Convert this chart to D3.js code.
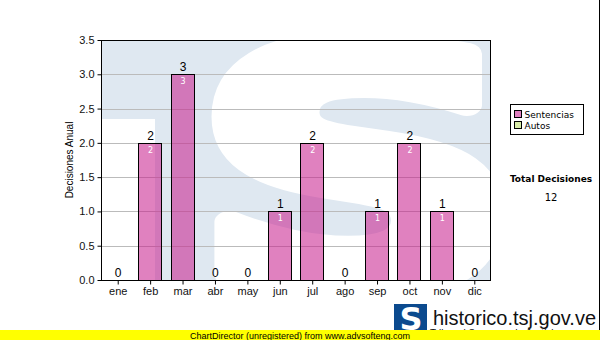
<!DOCTYPE html>
<html>
<head>
<meta charset="utf-8">
<script src="https://cdn.jsdelivr.net/npm/d3@7"></script>
<style>
  body { margin: 0; background: #fff; }
  svg { display: block; }
</style>
</head>
<body>
<svg id="chart" width="600" height="340"></svg>
<script>
// Data
const months = ["ene", "feb", "mar", "abr", "may", "jun", "jul", "ago", "sep", "oct", "nov", "dic"];
const sentencias = [0, 2, 3, 0, 0, 1, 2, 0, 1, 2, 1, 0];
const autos = [0, 0, 0, 0, 0, 0, 0, 0, 0, 0, 0, 0];
const yTicks = [0, 0.5, 1, 1.5, 2, 2.5, 3, 3.5];
const seriesNames = ["Sentencias", "Autos"];

const width = 600, height = 340;
const plot = { left: 101, right: 490, top: 40, bottom: 280 };
const svg = d3.select("#chart");

const x = d3.scaleBand().domain(months).range([plot.left, plot.right]).paddingInner(0.29).paddingOuter(0.145);
const y = d3.scaleLinear().domain([0, 3.5]).range([plot.bottom, plot.top]);

// plot background with watermark
const defs = svg.append("defs");
defs.append("clipPath").attr("id", "plotClip")
  .append("rect")
  .attr("x", plot.left).attr("y", plot.top)
  .attr("width", plot.right - plot.left).attr("height", plot.bottom - plot.top);

const bg = svg.append("g").attr("clip-path", "url(#plotClip)");
bg.append("rect")
  .attr("x", plot.left).attr("y", plot.top)
  .attr("width", plot.right - plot.left).attr("height", plot.bottom - plot.top)
  .attr("fill", "#dfe8f1");
bg.append("rect")
  .attr("x", plot.left).attr("y", 119)
  .attr("width", 54).attr("height", plot.bottom - 119)
  .attr("fill", "#fff");
bg.append("text")
  .attr("transform", "translate(358,287) scale(1.38,1)")
  .attr("text-anchor", "middle")
  .attr("font-family", "DejaVu Sans")
  .attr("font-weight", "bold")
  .attr("font-size", 330)
  .attr("fill", "#fff")
  .attr("stroke", "#fff")
  .attr("stroke-width", 22)
  .attr("stroke-linejoin", "round")
  .text("S");

// grid lines
svg.append("g").selectAll("line")
  .data(yTicks.filter(d => d > 0 && d < 3.5))
  .enter().append("line")
  .attr("x1", plot.left).attr("x2", plot.right)
  .attr("y1", d => Math.round(y(d)) + 0.5).attr("y2", d => Math.round(y(d)) + 0.5)
  .attr("stroke", "#bbbbbb");

// bars
const barColor = "rgba(200,30,140,0.56)";
const bars = svg.append("g");
bars.selectAll("rect")
  .data(months.filter((m, i) => sentencias[i] > 0))
  .enter().append("rect")
  .attr("x", m => Math.round(x(m)) + 0.5)
  .attr("y", m => Math.round(y(sentencias[months.indexOf(m)])) + 0.5)
  .attr("width", Math.round(x.bandwidth()))
  .attr("height", m => Math.round(y(0)) - Math.round(y(sentencias[months.indexOf(m)])))
  .attr("fill", barColor)
  .attr("stroke", "#000")
  .attr("stroke-width", 1);

// value labels above
svg.append("g").selectAll("text")
  .data(months)
  .enter().append("text")
  .attr("x", m => x(m) + x.bandwidth() / 2 + 1)
  .attr("y", (m, i) => y(sentencias[i] + autos[i]) - 3)
  .attr("text-anchor", "middle")
  .attr("font-family", "Liberation Sans, Arial")
  .attr("font-size", 12)
  .attr("fill", "#000")
  .text((m, i) => sentencias[i] + autos[i]);

// value labels inside
svg.append("g").selectAll("text")
  .data(months.filter((m, i) => sentencias[i] > 0))
  .enter().append("text")
  .attr("x", m => x(m) + x.bandwidth() / 2 + 1)
  .attr("y", m => y(sentencias[months.indexOf(m)]) + 10)
  .attr("text-anchor", "middle")
  .attr("font-family", "DejaVu Sans")
  .attr("font-size", 8)
  .attr("fill", "#fff")
  .text(m => sentencias[months.indexOf(m)]);

// plot frame
svg.append("rect")
  .attr("x", plot.left + 0.5).attr("y", plot.top + 0.5)
  .attr("width", plot.right - plot.left).attr("height", plot.bottom - plot.top)
  .attr("fill", "none").attr("stroke", "#000");

// axes
const yAxis = svg.append("g")
  .attr("transform", `translate(${plot.left + 0.5},0)`)
  .call(d3.axisLeft(y).tickValues(yTicks).tickFormat(d3.format(".1f")).tickSize(4).tickPadding(3));
yAxis.select(".domain").remove();
yAxis.selectAll("text").attr("font-family", "Liberation Sans, Arial").attr("font-size", 11).attr("fill", "#111");

const xAxis = svg.append("g")
  .attr("transform", `translate(1,${plot.bottom + 0.5})`)
  .call(d3.axisBottom(x).tickSize(4).tickPadding(3));
xAxis.select(".domain").remove();
xAxis.selectAll("text").attr("font-family", "Liberation Sans, Arial").attr("font-size", 11).attr("fill", "#111");

svg.append("text")
  .attr("transform", `translate(73,${(plot.top + plot.bottom) / 2}) rotate(-90)`)
  .attr("text-anchor", "middle")
  .attr("font-family", "Liberation Sans, Arial")
  .attr("font-size", 10)
  .text("Decisiones Anual");

// legend
const legend = svg.append("g").attr("transform", "translate(510.5,104.5)");
legend.append("rect").attr("width", 73).attr("height", 30).attr("fill", "#fff").attr("stroke", "#000");
const legendColors = ["#e080c0", "#d8eca8"];
seriesNames.forEach((name, i) => {
  legend.append("rect")
    .attr("x", 4).attr("y", 6 + i * 11)
    .attr("width", 7).attr("height", 7)
    .attr("fill", legendColors[i]).attr("stroke", "#000");
  legend.append("text")
    .attr("x", 14).attr("y", 13 + i * 11)
    .attr("font-family", "DejaVu Sans")
    .attr("font-size", 9)
    .text(name);
});

svg.append("text")
  .attr("x", 551).attr("y", 182)
  .attr("text-anchor", "middle")
  .attr("font-family", "DejaVu Sans")
  .attr("font-weight", "bold")
  .attr("font-size", 9)
  .text("Total Decisiones");
svg.append("text")
  .attr("x", 551).attr("y", 201)
  .attr("text-anchor", "middle")
  .attr("font-family", "DejaVu Sans")
  .attr("font-size", 10)
  .text(d3.sum(sentencias) + d3.sum(autos));

// right border
svg.append("line").attr("x1", 599.5).attr("x2", 599.5).attr("y1", 0).attr("y2", 330).attr("stroke", "#000");

// footer logo
const logo = svg.append("g").attr("transform", "translate(394,304)");
logo.append("rect").attr("width", 33).attr("height", 28).attr("fill", "#0b4a8e");
logo.append("text")
  .attr("x", 17).attr("y", 26)
  .attr("text-anchor", "middle")
  .attr("font-family", "DejaVu Sans")
  .attr("font-weight", "bold")
  .attr("font-size", 32)
  .attr("fill", "#fff")
  .text("S");
svg.append("text")
  .attr("x", 433).attr("y", 325)
  .attr("font-family", "Liberation Sans, Arial")
  .attr("font-size", 20)
  .attr("fill", "#111")
  .text("historico.tsj.gov.ve");
svg.append("text")
  .attr("x", 430).attr("y", 337)
  .attr("font-family", "Liberation Sans, Arial")
  .attr("font-size", 10)
  .attr("fill", "#111")
  .text("Tribunal Supremo de Justicia");

// unregistered banner
svg.append("rect").attr("x", 0).attr("y", 330).attr("width", width).attr("height", 10).attr("fill", "#ffff00");
svg.append("text")
  .attr("x", 190).attr("y", 338.5)
  .attr("font-family", "Liberation Sans, Arial")
  .attr("font-size", 9)
  .attr("fill", "#000")
  .text("ChartDirector (unregistered) from www.advsofteng.com");
</script>
</body>
</html>
